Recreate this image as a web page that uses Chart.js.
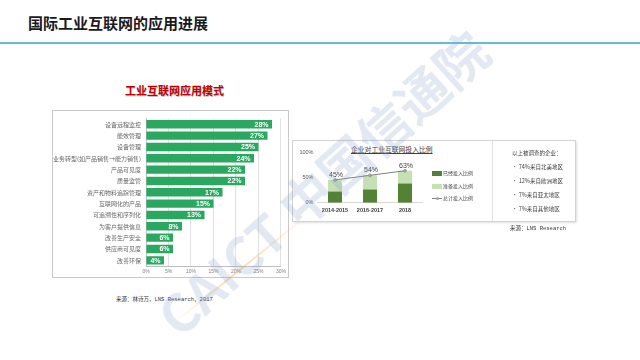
<!DOCTYPE html>
<html><head><meta charset="utf-8">
<script src="https://cdn.jsdelivr.net/npm/chart.js@4.4.0/dist/chart.umd.min.js"></script>
<style>
html,body{margin:0;padding:0;background:#fff;}
body{width:640px;height:360px;position:relative;overflow:hidden;font-family:"Noto Sans CJK SC","Noto Sans",sans-serif;}
.abs{position:absolute;white-space:nowrap;}
#title{left:28px;top:12px;font-size:15px;line-height:22px;font-weight:bold;color:#1a1a1a;}
#rule{left:0;top:42px;width:640px;height:2px;background:#62bdd8;}
#modeTitle{left:125px;top:82px;font-size:11px;line-height:16px;font-weight:bold;color:#c00000;text-shadow:0.5px 0.5px 0.5px rgba(0,0,0,0.25);}
#leftBox{left:52px;top:110px;width:237px;height:168px;box-sizing:border-box;border:1px solid #c9c9c9;}
#rightBox{left:292px;top:140px;width:284px;height:82px;box-sizing:border-box;border:1px solid #d2d2d2;box-shadow:1px 1px 2px rgba(0,0,0,0.12);}
#divider{left:492px;top:141px;width:1px;height:80px;background:#e2e2e2;}
#investTitle{left:351px;top:144px;font-size:6.8px;line-height:10px;color:#404040;text-decoration:underline;}
#legend{left:432px;top:169px;font-size:5px;color:#404040;}
.lg{position:relative;height:12.5px;line-height:8px;}
.sw{position:absolute;left:0;top:2px;width:10px;height:5px;}
.lt{position:absolute;left:11px;top:0;}
.ln{position:absolute;left:0;top:4px;width:10px;height:1px;background:#808080;}
.dot{position:absolute;left:3.5px;top:2.5px;width:3px;height:3px;border-radius:50%;background:#a6a6a6;}
#survey{left:512px;top:147px;font-size:5.5px;color:#404040;}
.sv{height:14px;line-height:12px;}
#src1{left:116px;top:295px;font-size:5.5px;color:#333;font-family:"Liberation Mono","Noto Sans CJK SC",monospace;}
#src2{left:510px;top:224px;font-size:5.5px;color:#333;font-family:"Liberation Mono","Noto Sans CJK SC",monospace;}
#wm{left:92px;top:150px;width:460px;height:64px;line-height:64px;text-align:center;font-size:52px;font-weight:bold;color:rgba(140,162,205,0.24);transform:rotate(-42deg);pointer-events:none;}
#stripe{left:156px;top:272px;width:160px;height:2px;background:linear-gradient(90deg,rgba(250,190,110,0.0),rgba(250,185,110,0.55),rgba(250,190,110,0.1));transform:rotate(-39deg);}
</style></head>
<body>
<div id="title" class="abs">国际工业互联网的应用进展</div>
<div id="rule" class="abs"></div>
<div id="modeTitle" class="abs">工业互联网应用模式</div>
<div id="leftBox" class="abs"></div>
<canvas id="c1" class="abs" style="left:52px;top:110px;" width="237" height="169"></canvas>
<div id="src1" class="abs">来源：林诗万，LNS Research，2017</div>
<div id="rightBox" class="abs"></div>
<div id="divider" class="abs"></div>
<div id="investTitle" class="abs">企业对工业互联网投入比例</div>
<canvas id="c2" class="abs" style="left:293px;top:141px;" width="198" height="80"></canvas>
<div id="legend" class="abs"></div>
<div id="survey" class="abs"></div>
<div id="src2" class="abs">来源：LNS Research</div>
<div id="stripe" class="abs"></div>
<div id="wm" class="abs">CAICT 中国信通院</div>
<script>
// ---- data ----
const modeCategories = ['设备远程监控','能效管理','设备管理','业务转型(如产品销售→能力销售)','产品可见度','质量监管','资产和物料追踪管理','互联网化的产品','可追溯性和序列化','为客户提供信息','改善生产安全','供应商可见度','改善环保'];
const modeValues = [28,27,25,24,22,22,17,15,13,8,6,6,4];
const modeTickLabels = ['0%','5%','10%','15%','20%','25%','30%'];

const investCategories = ['2014-2015','2016-2017','2018'];
const investedValues = [22,26,38];
const plannedValues = [23,28,25];
const totalValues = [45,54,63];
const investSeriesNames = ['已经投入比例','准备投入比例','总计投入比例'];
const investTickLabels = ['0%','50%','100%'];

const surveyHeader = '以上被调查的企业：';
const surveyLines = ['74%来自北美地区','12%来自欧洲地区','7%来自亚太地区','7%来自其他地区'];

const barGreen = '#2aa860', darkGreen = '#548235', lightGreen = '#c5e0b3', lineGray = '#808080';

// ---- left chart ----
const barLabelPlugin = {
  id:'barLabels',
  afterDatasetsDraw(chart){
    const ctx = chart.ctx, meta = chart.getDatasetMeta(0);
    ctx.save();
    ctx.font = 'bold 7px "Liberation Sans", Arial, sans-serif';
    ctx.fillStyle = '#fff'; ctx.textAlign = 'right'; ctx.textBaseline = 'middle';
    meta.data.forEach((bar,i)=>{ ctx.fillText(modeValues[i]+'%', bar.x-3.5, bar.y+0.5); });
    ctx.restore();
  }
};
new Chart(document.getElementById('c1'), {
  type:'bar',
  data:{labels:modeCategories, datasets:[{data:modeValues, backgroundColor:barGreen, barPercentage:0.74, categoryPercentage:1}]},
  options:{
    indexAxis:'y', responsive:false, animation:false, devicePixelRatio:1,
    layout:{padding:{left:0,right:7,top:1,bottom:1}},
    plugins:{legend:{display:false}, tooltip:{enabled:false}},
    scales:{
      x:{min:0,max:30,
         ticks:{stepSize:5, callback:(v)=>modeTickLabels[Math.round(v/5)], font:{size:5,family:'"Liberation Sans", Arial'}, color:'#7f7f7f', padding:3, maxRotation:0},
         grid:{color:'#d9d9d9', drawTicks:false, lineWidth:0.8},
         border:{color:'#bfbfbf'},
         afterFit(s){s.height=12;}},
      y:{ticks:{font:{size:6,family:'"Noto Sans CJK SC"'}, color:'#666666', padding:5, autoSkip:false},
         grid:{display:false, drawTicks:false},
         border:{color:'#bfbfbf'},
         afterFit(s){s.width=94;}}
    }
  },
  plugins:[barLabelPlugin]
});

// ---- right chart ----
const totalLabelPlugin = {
  id:'totalLabels',
  afterDatasetsDraw(chart){
    const ctx = chart.ctx, meta = chart.getDatasetMeta(2);
    ctx.save();
    ctx.font = '7px "Liberation Sans", Arial, sans-serif';
    ctx.fillStyle = '#404040'; ctx.textAlign = 'center'; ctx.textBaseline = 'bottom';
    meta.data.forEach((pt,i)=>{ ctx.fillText(totalValues[i]+'%', pt.x+1, pt.y-1.5); });
    ctx.restore();
  }
};
new Chart(document.getElementById('c2'), {
  data:{labels:investCategories, datasets:[
    {type:'bar', label:investSeriesNames[0], data:investedValues, backgroundColor:darkGreen, barPercentage:0.4, categoryPercentage:1, order:1},
    {type:'bar', label:investSeriesNames[1], data:plannedValues, backgroundColor:lightGreen, barPercentage:0.4, categoryPercentage:1, order:1},
    {type:'line', label:investSeriesNames[2], data:totalValues, borderColor:lineGray, borderWidth:1, pointRadius:1.5, pointBackgroundColor:'#a6a6a6', pointBorderColor:lineGray, pointBorderWidth:0.5, order:0}
  ]},
  options:{
    responsive:false, animation:false, devicePixelRatio:1,
    layout:{padding:{left:0,right:68.5,top:11,bottom:2}},
    plugins:{legend:{display:false}, tooltip:{enabled:false}},
    scales:{
      x:{stacked:true, ticks:{font:{size:5.5,weight:'bold',family:'"Liberation Sans", Arial'}, color:'#404040', padding:4, maxRotation:0},
         grid:{display:false, drawTicks:false}, border:{color:'#d9d9d9'},
         afterFit(s){s.height=16.3;}},
      y:{stacked:true, min:0, max:100,
         ticks:{stepSize:50, callback:(v)=>investTickLabels[Math.round(v/50)], font:{size:5.5,family:'"Liberation Sans", Arial'}, color:'#595959', padding:4},
         grid:{display:false, drawTicks:false}, border:{display:false},
         afterFit(s){s.width=24.5;}}
    }
  },
  plugins:[totalLabelPlugin]
});

// ---- legend & text ----
const lg = document.getElementById('legend');
investSeriesNames.forEach((n,i)=>{
  const row = document.createElement('div'); row.className='lg';
  if(i<2){ row.innerHTML = '<div class="sw" style="background:'+(i===0?darkGreen:lightGreen)+'"></div>'; }
  else { row.innerHTML = '<div class="ln"></div><div class="dot"></div>'; }
  const t = document.createElement('div'); t.className='lt'; t.textContent=n; row.appendChild(t);
  lg.appendChild(row);
});
const sv = document.getElementById('survey');
const h = document.createElement('div'); h.className='sv'; h.textContent=surveyHeader; sv.appendChild(h);
surveyLines.forEach(s=>{ const d=document.createElement('div'); d.className='sv'; d.textContent='•  '+s; sv.appendChild(d); });
</script>
</body></html>
